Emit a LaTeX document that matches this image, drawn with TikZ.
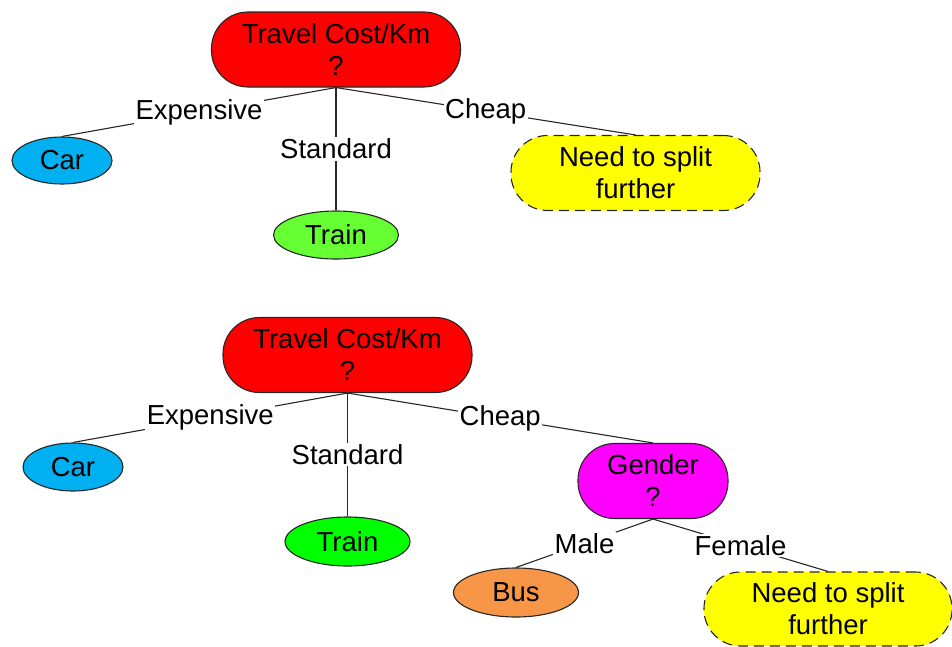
\documentclass[tikz,border=0pt]{standalone}
\usepackage{fontspec}
\setmainfont{Liberation Sans}
\usetikzlibrary{shapes.geometric}
\definecolor{carblue}{HTML}{00B0F0}
\definecolor{lightgreen}{HTML}{66FF33}
\definecolor{puregreen}{HTML}{00FF00}
\definecolor{busorange}{HTML}{F79646}
\definecolor{rootred}{HTML}{FF0000}
\definecolor{splitmagenta}{HTML}{FF00FF}
\definecolor{openyellow}{HTML}{FFFF00}
\begin{document}
\begin{tikzpicture}[x=1pt,y=-1pt,
  every node/.style={font=\fontsize{27.5}{32}\selectfont, text=black},
  pill/.style={draw=black!85, line width=1.1pt, rectangle, rounded corners=36.5pt,
    minimum width=249pt, minimum height=75pt, align=center, inner sep=0pt},
  smallpill/.style={pill, minimum width=150pt},
  leaf/.style={draw=black!85, line width=1.1pt, ellipse, inner sep=0pt},
  pending/.style={pill, dash pattern=on 10pt off 6pt},
  branch/.style={draw=black!85, line width=1.1pt},
  choice/.style={fill=white, inner sep=1.5pt, pos=0.5}]
\useasboundingbox (0,0) rectangle (952,646);

% first split: travel cost only
\node[pill, fill=rootred] (r1) at (336,49.5) {Travel Cost/Km\\?};
\node[leaf, fill=carblue, minimum width=100pt, minimum height=47pt] (car1) at (62,160.5) {Car};
\node[leaf, fill=lightgreen, minimum width=125pt, minimum height=48pt] (train1) at (336,235) {Train};
\node[pending, fill=openyellow] (more1) at (635.5,173) {Need to split\\further};

\draw[branch] (r1.south) -- node[choice] {Expensive} (car1.north);
\draw[branch] (r1.south) -- node[choice] {Standard} (train1.north);
\draw[branch] (r1.south) -- node[choice] {Cheap} (more1.north);

% second split: cheap branch divided by gender
\node[pill, fill=rootred] (r2) at (347.5,355) {Travel Cost/Km\\?};
\node[leaf, fill=carblue, minimum width=100pt, minimum height=48pt] (car2) at (73,467) {Car};
\node[leaf, fill=puregreen, minimum width=125pt, minimum height=49pt] (train2) at (347.5,541.5) {Train};
\node[smallpill, fill=splitmagenta] (gender) at (653,481) {Gender\\?};
\node[leaf, fill=busorange, minimum width=125pt, minimum height=49pt] (bus) at (516,592.5) {Bus};
\node[pending, fill=openyellow, minimum width=248pt, minimum height=74pt] (more2) at (828,609) {Need to split\\further};

\draw[branch] (r2.south) -- node[choice] {Expensive} (car2.north);
\draw[branch] (r2.south) -- node[choice] {Standard} (train2.north);
\draw[branch] (r2.south) -- node[choice] {Cheap} (gender.north);
\draw[branch] (gender.south) -- node[choice] {Male} (bus.north);
\draw[branch] (gender.south) -- node[choice] {Female} (more2.north);
\end{tikzpicture}
\end{document}
